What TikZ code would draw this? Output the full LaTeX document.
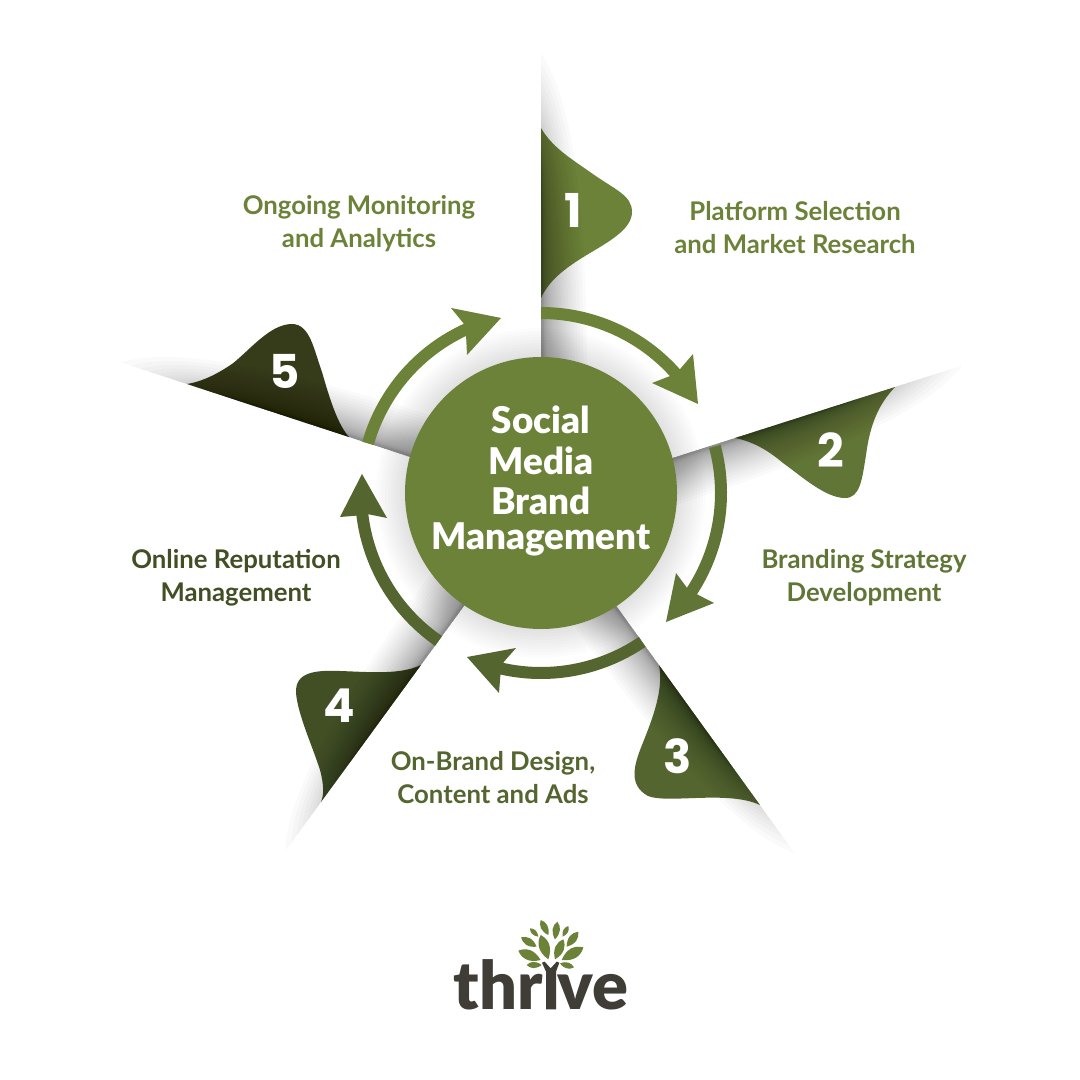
\documentclass[tikz,border=0pt]{standalone}
\usepackage{fontspec}
\usetikzlibrary{calc}
\setmainfont{Lato}
\newfontfamily\numfont{Poppins}
\newfontfamily\heavyfont{Lato Black}
\definecolor{cA}{HTML}{6C8239}
\definecolor{cB}{HTML}{617536}
\definecolor{cC}{HTML}{55652F}
\definecolor{cD}{HTML}{424F25}
\definecolor{cE}{HTML}{363C1A}
\definecolor{cT}{HTML}{3F3D36}
\tikzset{
  lab/.style={align=center,font=\bfseries\fontsize{19.3}{24.75}\selectfont,inner sep=0pt},
  num/.style={text=white,inner sep=0pt,font=\numfont\bfseries\fontsize{35}{35}\selectfont},
  shadowlayer/.style={fill=black,fill opacity=0.021,draw=none}
}
\newcommand\pageshadow[2]{%
  \begin{scope}[shift={#2},rotate=-#1]
    \foreach \k in {1,...,26}{
      \pgfmathsetmacro\bb{330+110*(\k/26)^2.5}
      \pgfmathsetmacro\ww{2+44*(\k/26)^2}
      \fill[shadowlayer] (110,0) -- (110,\ww) .. controls ({110+0.6*(\bb-110)},\ww) and ({\bb-0.12*(\bb-110)},{\ww*0.6}) .. (\bb,0) -- cycle;
    }
  \end{scope}}
\newcommand\ringarrow[8]{%
  \fill[#1] plot[domain=#2:#3,samples=40] ({541+186*cos(\x)},{493+186*sin(\x)})
    -- #4 -- #5 -- #6 --
    plot[domain=#7:#8,samples=40] ({541+174*cos(\x)},{493+174*sin(\x)}) -- cycle;}
\newcommand\leaf[2]{%
  \fill[cA] #1 .. controls ($#1!.4!#2!.5!90:#2$) and ($#1!.75!#2!1!90:#2$) .. #2
    .. controls ($#1!.75!#2!1!-90:#2$) and ($#1!.4!#2!.5!-90:#2$) .. #1 -- cycle;}
\begin{document}
\begin{tikzpicture}[x=0.75pt,y=-0.75pt]
\useasboundingbox (0,0) rectangle (1080,1080);
\fill[white] (0,0) rectangle (1080,1080);
% folded tabs
\fill[cA] (541,128) .. controls (552,147) and (570,158) .. (590,172) .. controls (615,190) and (632,195) .. (632,212) .. controls (632,228) and (612,240) .. (590,253) .. controls (570,265) and (550,278) .. (541,298) -- cycle;
\fill[cB] (735,438) .. controls (755,442) and (770,452) .. (783,463) .. controls (800,475) and (825,498) .. (845,498) .. controls (860,498) and (862,480) .. (866,455) .. controls (870,425) and (878,405) .. (895,387) -- cycle;
\fill[cC] (659,665) .. controls (664,690) and (652,720) .. (642,745) .. controls (634,765) and (628,785) .. (648,796) .. controls (668,804) and (728,790) .. (760,805) -- cycle;
\fill[cD] (421,665) .. controls (400,675) and (370,672) .. (340,671) .. controls (315,670) and (295,672) .. (296,693) .. controls (298,715) and (312,745) .. (320,770) .. controls (324,785) and (324,795) .. (321,802) -- cycle;
\fill[cE] (187,384) .. controls (205,381) and (220,372) .. (232,364) .. controls (250,350) and (270,324) .. (292,324) .. controls (310,324) and (314,350) .. (322,372) .. controls (330,400) and (338,425) .. (349,437) -- cycle;
% page shadows
\pageshadow{-90}{(541,493)}
\pageshadow{-17.7}{(543,499.3)}
\pageshadow{54.2}{(537,496)}
\pageshadow{126.1}{(544.5,495.6)}
\pageshadow{198.1}{(539,499.1)}
% glow round the hub
\foreach \r in {138,141,...,165}{\fill[black,fill opacity=0.012] (541,493) circle[radius=\r];}
% ring arrows
\ringarrow{cA}{-90}{-41.7}{(693,354)}{(698,404)}{(652,383)}{-42.2}{-90}
\ringarrow{cB}{-15}{33}{(714,603)}{(666,622)}{(676,573)}{33}{-15}
\ringarrow{cC}{55.8}{102.6}{(499,693)}{(467,657)}{(516,648)}{102.6}{55.8}
\ringarrow{cC}{124.7}{173}{(340,517)}{(362,474)}{(387,518)}{173}{124.7}
\ringarrow{cA}{196}{245.5}{(451,308)}{(501,318)}{(467,355)}{244.5}{196}
% hub
\fill[cA] (541,493) circle[radius=136];
\node[text=white,align=center,inner sep=0pt,font=\heavyfont\fontsize{27.6}{30}\selectfont] (hub) at (541,481)
  {Social\\[0.5pt]Media\\[0pt]Brand\\[-4pt]Management};
% numbers
\node[num] (n1) at (573,210) {1};
\node[num] (n2) at (831,450) {2};
\node[num] (n3) at (678,756) {3};
\node[num] (n4) at (339,706) {4};
\node[num] (n5) at (285,371) {5};
% labels
\node[lab,text=cA] (l1) at (795,228) {Platform Selection\\and Market Research};
\node[lab,text=cB] (l2) at (864,577.5) {Branding Strategy\\Development};
\node[lab,text=cC] (l3) at (493,778) {On-Brand Design,\\Content and Ads};
\node[lab,text=cD] (l4) at (236,577.5) {Online Reputation\\Management};
\node[lab,text=cA] (l5) at (359,223.5) {Ongoing Monitoring\\and Analytics};
% logo
\node[anchor=base east,inner sep=0pt,text=cT,font=\heavyfont\fontsize{50}{50}\selectfont] (logoa) at (543,1009) {thr};
\node[anchor=base west,inner sep=0pt,text=cT,font=\heavyfont\fontsize{50}{50}\selectfont] (logob) at (557,1009) {ve};
\begin{scope}[shift={(420,900)},x=0.25pt,y=-0.25pt]
  \fill[cT] (378,328) -- (378,215) -- (366,188) -- (374,185) -- (392,205) -- (410,185) -- (418,188) -- (408,215) -- (408,328) -- cycle;
  \leaf{(385,178)}{(362,105)}
  \leaf{(405,178)}{(430,118)}
  \leaf{(362,180)}{(295,152)}
  \leaf{(425,180)}{(490,142)}
  \leaf{(350,140)}{(303,112)}
  \leaf{(440,140)}{(475,95)}
  \leaf{(355,110)}{(330,85)}
  \leaf{(385,105)}{(362,60)}
  \leaf{(405,118)}{(412,65)}
  \leaf{(428,110)}{(445,78)}
  \leaf{(365,195)}{(320,195)}
  \leaf{(420,190)}{(462,202)}
\end{scope}
\end{tikzpicture}
\end{document}
